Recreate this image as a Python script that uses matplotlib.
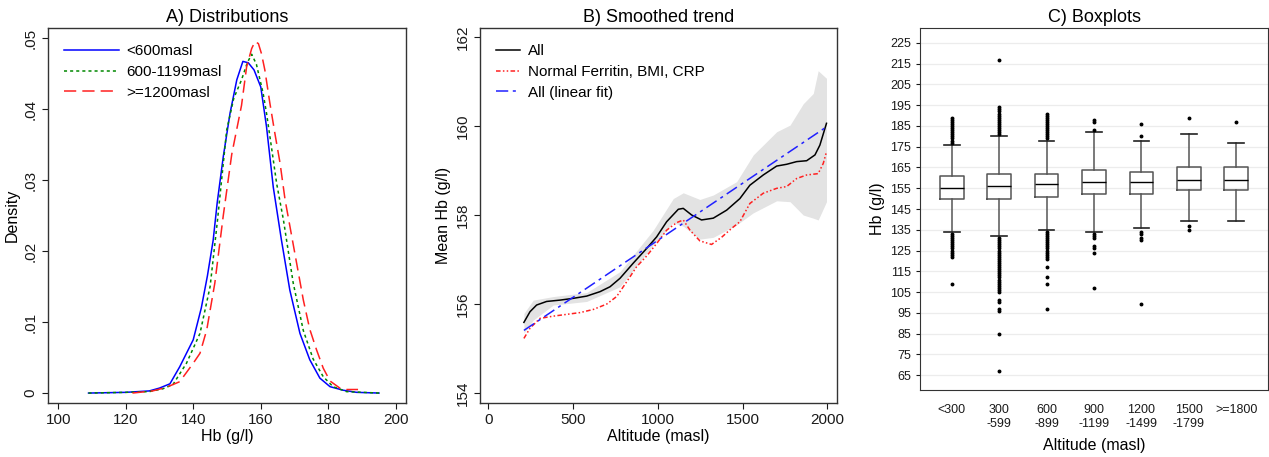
import matplotlib

matplotlib.use("Agg")
import matplotlib.pyplot as plt  # noqa: E402

DPI = 100
W, H = 1269, 457

INK = "#1a1a1a"
FRAME = "#333333"
BOX = "#555555"
GRID = "#ececec"
BAND = "#e3e3e3"

plt.rcParams["font.family"] = ["Liberation Sans", "DejaVu Sans"]

# ---- A) Distributions: kernel densities by altitude group (read off the plot)
lt600_x = [109, 120, 127, 130, 133.1, 136, 140, 142.4, 144.2, 145.9, 147.1, 148.9,
           150.9, 152.9, 154.7, 156.3, 158, 160, 161.7, 163.7, 166.1, 168.6, 171.6,
           174.5, 177.5, 180.5, 184.4, 188.4, 195]
lt600_y = [0, 0.0001, 0.0003, 0.0007, 0.0013, 0.0037, 0.0075, 0.012, 0.0165, 0.0215,
           0.0268, 0.0333, 0.0394, 0.0441, 0.0467, 0.0465, 0.0455, 0.0431, 0.0375,
           0.029, 0.0216, 0.0145, 0.0084, 0.0047, 0.0021, 0.0009, 0.0004, 0.0001, 0]
mid_x = [109, 120, 127, 131, 134, 138, 142, 145, 147.2, 149.9, 152, 154.3, 156,
         157.3, 158.7, 160.7, 161.7, 163.2, 164.7, 166.7, 169.6, 172.6, 175.5,
         178.5, 181.4, 185.4, 195]
mid_y = [0, 0.0001, 0.0002, 0.0006, 0.0012, 0.0042, 0.0084, 0.015, 0.0244, 0.037,
         0.0415, 0.0441, 0.0465, 0.0477, 0.0463, 0.0422, 0.0394, 0.0345, 0.0295,
         0.0244, 0.0155, 0.0088, 0.0048, 0.0023, 0.0009, 0.0002, 0]
ge1200_x = [122, 128, 132, 136, 140, 142, 144, 146.4, 148.9, 151.4, 154.3, 155.8,
            157.3, 158.3, 159.3, 160.2, 161.2, 162.7, 164.2, 165.7, 167.2, 170,
            172.6, 174.5, 176.5, 178.5, 180.5, 183.4, 185.4, 188.8]
ge1200_y = [0, 0.0003, 0.0008, 0.0016, 0.0042, 0.0056, 0.0089, 0.0155, 0.025, 0.0336,
            0.0405, 0.0459, 0.0485, 0.0495, 0.0492, 0.0478, 0.0455, 0.0408, 0.0365,
            0.0324, 0.0272, 0.0199, 0.0131, 0.009, 0.0061, 0.0035, 0.0017, 0.0007,
            0.0005, 0.0005]
dens_ticks = [0, 0.01, 0.02, 0.03, 0.04, 0.05]
dens_labels = ["0", ".01", ".02", ".03", ".04", ".05"]

# ---- B) Smoothed trend of mean Hb by altitude
all_x = [210, 246, 285, 344, 423, 501, 580, 659, 718, 777, 855, 934, 993, 1052,
         1121, 1150, 1200, 1258, 1327, 1406, 1484, 1543, 1622, 1701, 1760, 1819,
         1878, 1927, 1956, 1995]
all_y = [155.59, 155.83, 155.98, 156.06, 156.09, 156.13, 156.18, 156.28, 156.39,
         156.58, 156.92, 157.25, 157.51, 157.85, 158.13, 158.15, 158.0, 157.89,
         157.93, 158.11, 158.37, 158.67, 158.9, 159.1, 159.14, 159.2, 159.22,
         159.35, 159.57, 160.06]
norm_x = [210, 246, 305, 383, 462, 541, 619, 698, 757, 816, 875, 934, 993, 1052,
          1111, 1150, 1190, 1248, 1317, 1376, 1435, 1484, 1543, 1622, 1701, 1760,
          1819, 1878, 1946, 1976, 1995]
norm_y = [155.23, 155.46, 155.68, 155.73, 155.77, 155.81, 155.88, 156.0, 156.17,
          156.5, 156.84, 157.08, 157.36, 157.66, 157.83, 157.89, 157.66, 157.42,
          157.34, 157.5, 157.7, 157.85, 158.26, 158.49, 158.6, 158.64, 158.82,
          158.9, 158.93, 159.16, 159.42]
fit_x = [210, 1995]
fit_y = [155.41, 159.98]
band_x = [210, 265, 383, 580, 777, 973, 1091, 1150, 1248, 1327, 1465, 1563, 1701,
          1780, 1858, 1917, 1946, 1995]
band_hi = [155.79, 156.09, 156.17, 156.26, 156.73, 157.66, 158.37, 158.5, 158.35,
           158.45, 158.75, 159.35, 159.87, 160.02, 160.5, 160.73, 161.24, 161.07]
band_lo = [155.35, 155.64, 155.98, 156.06, 156.39, 157.33, 157.83, 157.75, 157.46,
           157.5, 157.78, 158.05, 158.32, 158.3, 158.0, 157.93, 157.89, 158.3]

# ---- C) Boxplots of Hb by altitude band
box_labels = ["<300", "300\n-599", "600\n-899", "900\n-1199", "1200\n-1499",
              "1500\n-1799", ">=1800"]
box_med = [155, 156, 157, 158, 158, 159, 159]
box_q1 = [150, 150, 151, 152, 152, 154, 154]
box_q3 = [161, 162, 162, 164, 163, 165, 165]
box_lo = [134, 132, 135, 134, 136, 139, 139]
box_hi = [176, 180, 178, 182, 178, 181, 177]
box_out = [
    list(range(177, 190)) + list(range(122, 134)) + [109],
    list(range(181, 195)) + [217] + list(range(105, 132)) + [101, 100, 97, 96, 85, 67],
    list(range(179, 192)) + list(range(121, 135)) + [117, 112, 109, 97],
    [183, 187, 188, 133, 132, 131, 127, 126, 124, 107],
    [180, 186, 134, 133, 131, 130, 99],
    [189, 137, 135],
    [187],
]
hb_ticks = list(range(65, 226, 10))


def style_frame(ax):
    for s in ax.spines.values():
        s.set_color(FRAME)
        s.set_linewidth(1.0)
    ax.tick_params(colors=INK, labelsize=11, length=4, width=0.8, direction="out")


def add_legend(ax, handlelength, textpad=0.6):
    ax.legend(loc="upper left", frameon=False, fontsize=11,
              handlelength=handlelength, handletextpad=textpad, borderaxespad=0.75,
              labelspacing=0.45, borderpad=0.3)


fig = plt.figure(figsize=(W / DPI, H / DPI), dpi=DPI)

# A
ax = fig.add_axes([48 / W, 1 - 403 / H, 358 / W, 375 / H])
ax.plot(lt600_x, lt600_y, color="#0000ff", lw=1.1, label="<600masl")
ax.plot(mid_x, mid_y, color="#008800", lw=1.1, ls=(0, (2, 2)), label="600-1199masl")
ax.plot(ge1200_x, ge1200_y, color="#ff2020", lw=1.1, ls=(0, (8, 4)), label=">=1200masl")
ax.set_xlim(97, 203)
ax.set_ylim(-0.0014, 0.0514)
ax.set_xticks([100, 120, 140, 160, 180, 200])
ax.set_yticks(dens_ticks)
ax.set_yticklabels(dens_labels, rotation=90, va="center")
ax.set_xlabel("Hb (g/l)", fontsize=11.5, labelpad=1)
ax.set_ylabel("Density", fontsize=11.5, labelpad=3)
ax.set_title("A) Distributions", fontsize=13, pad=4)
style_frame(ax)
add_legend(ax, 3.6, 0.45)

# B
ax = fig.add_axes([480 / W, 1 - 403 / H, 357 / W, 375 / H])
ax.fill_between(band_x, band_lo, band_hi, color=BAND, lw=0)
ax.plot(all_x, all_y, color="black", lw=1.1, label="All")
ax.plot(norm_x, norm_y, color="#ff2020", lw=1.1, ls=(0, (3, 1.5, 1, 1.5, 1, 1.5)),
        label="Normal Ferritin, BMI, CRP")
ax.plot(fit_x, fit_y, color="#2020ff", lw=1.1, ls=(0, (8, 3, 2, 3)),
        label="All (linear fit)")
ax.set_xlim(-49, 2057)
ax.set_ylim(153.78, 162.2)
ax.set_xticks([0, 500, 1000, 1500, 2000])
ax.set_yticks([154, 156, 158, 160, 162])
ax.set_yticklabels(["154", "156", "158", "160", "162"], rotation=90, va="center")
ax.set_xlabel("Altitude (masl)", fontsize=11.5, labelpad=1)
ax.set_ylabel("Mean Hb (g/l)", fontsize=11.5, labelpad=3)
ax.set_title("B) Smoothed trend", fontsize=13, pad=4)
style_frame(ax)
add_legend(ax, 1.6, 0.5)

# C
ax = fig.add_axes([920 / W, 1 - 390 / H, 348 / W, 362 / H])
stats = []
for i, lab in enumerate(box_labels):
    stats.append(dict(label=lab, med=box_med[i], q1=box_q1[i], q3=box_q3[i],
                      whislo=box_lo[i], whishi=box_hi[i], fliers=box_out[i]))
ax.bxp(stats, positions=range(1, 8), widths=0.5, capwidths=0.33, patch_artist=False,
       boxprops=dict(color=BOX, lw=1.1),
       medianprops=dict(color="black", lw=1.0),
       whiskerprops=dict(color=BOX, lw=1.1),
       capprops=dict(color="#222222", lw=1.2),
       flierprops=dict(marker="o", markersize=1.8, markerfacecolor="black",
                       markeredgecolor="black", lw=0))
ax.set_xlim(0.33, 7.67)
ax.set_ylim(57.8, 232.2)
ax.set_yticks(hb_ticks)
ax.yaxis.grid(True, color=GRID, lw=0.9)
ax.set_axisbelow(True)
for s in ax.spines.values():
    s.set_color(FRAME)
ax.tick_params(axis="y", labelsize=9, length=3, colors=INK)
ax.tick_params(axis="x", labelsize=9, length=0, pad=10, colors=INK)
ax.set_xlabel("Altitude (masl)", fontsize=11.5, labelpad=6)
ax.set_ylabel("Hb (g/l)", fontsize=11.5, labelpad=4)
ax.set_title("C) Boxplots", fontsize=13, pad=4)

fig.savefig("out.png", dpi=DPI, facecolor="white")
plt.close(fig)
